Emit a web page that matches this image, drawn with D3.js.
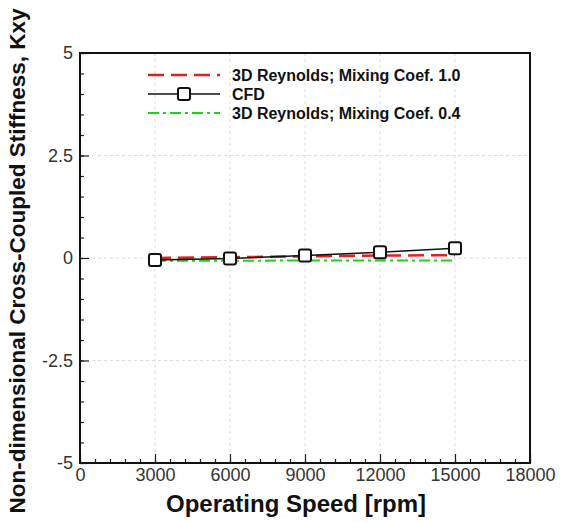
<!DOCTYPE html>
<html>
<head>
<meta charset="utf-8">
<script src="https://cdn.jsdelivr.net/npm/d3@7.9.0/dist/d3.min.js"></script>
<style>
  body { margin: 0; background: #fff; }
  svg { font-family: "Liberation Sans", Arial, sans-serif; }
</style>
</head>
<body>
<div id="plot-container"></div>
<script>
// data
const speeds = [3000, 6000, 9000, 12000, 15000];
const reynolds10 = [0.0, 0.02, 0.04, 0.06, 0.07];
const cfd = [-0.05, -0.01, 0.06, 0.14, 0.24];
const reynolds04 = [-0.07, -0.07, -0.06, -0.06, -0.06];
const xTicks = [0, 3000, 6000, 9000, 12000, 15000, 18000];
const yTicks = [-5, -2.5, 0, 2.5, 5];
const legendNames = ["3D Reynolds; Mixing Coef. 1.0", "CFD", "3D Reynolds; Mixing Coef. 0.4"];

const width = 573, height = 523;
const usable = { left: 80, right: 530, top: 53, bottom: 463 };

const svg = d3.select('#plot-container').append('svg')
    .attr('width', width).attr('height', height);

const xScale = d3.scaleLinear().domain([0, 18000]).range([usable.left, usable.right]);
const yScale = d3.scaleLinear().domain([-5, 5]).range([usable.bottom, usable.top]);

// gridlines
const grid = svg.append('g').attr('stroke', '#dcdcdc').attr('stroke-dasharray', '3,3').attr('stroke-width', 1);
grid.selectAll('.gx').data(xTicks.slice(1, -1)).enter().append('line')
    .attr('x1', d => xScale(d)).attr('x2', d => xScale(d))
    .attr('y1', usable.top).attr('y2', usable.bottom);
grid.selectAll('.gy').data(yTicks.slice(1, -1)).enter().append('line')
    .attr('y1', d => yScale(d)).attr('y2', d => yScale(d))
    .attr('x1', usable.left).attr('x2', usable.right);

// axes with inward ticks
const xAxis = svg.append('g').attr('transform', `translate(0,${usable.bottom})`)
    .call(d3.axisBottom(xScale).tickValues(d3.range(0, 18001, 600)).tickFormat('').tickSize(-4).tickSizeOuter(0));
xAxis.append('g').call(d3.axisBottom(xScale).tickValues(xTicks).tickSize(-9).tickSizeOuter(0).tickPadding(5)
    .tickFormat(d3.format('d')));
const yAxis = svg.append('g').attr('transform', `translate(${usable.left},0)`)
    .call(d3.axisLeft(yScale).tickValues(d3.range(-5, 5.01, 0.5)).tickFormat('').tickSize(-4).tickSizeOuter(0));
yAxis.append('g').call(d3.axisLeft(yScale).tickValues(yTicks).tickSize(-9).tickSizeOuter(0).tickPadding(7)
    .tickFormat(d => String(d)));
svg.selectAll('.tick line').attr('stroke', '#222').attr('stroke-width', 1.2);
svg.selectAll('.domain').remove();
svg.selectAll('.tick text').attr('font-size', 18).attr('fill', '#333')
    .attr('font-family', '"Liberation Sans", Arial, sans-serif');

// frame
svg.append('rect').attr('x', usable.left).attr('y', usable.top)
    .attr('width', usable.right - usable.left).attr('height', usable.bottom - usable.top)
    .attr('fill', 'none').attr('stroke', '#111').attr('stroke-width', 2);

// axis titles
svg.append('text').attr('x', 296).attr('y', 512)
    .attr('text-anchor', 'middle').attr('font-size', 24).attr('font-weight', 'bold').attr('fill', '#111')
    .text('Operating Speed [rpm]');
svg.append('text').attr('transform', `translate(25,261) rotate(-90)`)
    .attr('text-anchor', 'middle').attr('font-size', 22.5).attr('font-weight', 'bold').attr('fill', '#111')
    .text('Non-dimensional Cross-Coupled Stiffness, Kxy');

// lines
const line = d3.line().x((d, i) => xScale(speeds[i])).y(d => yScale(d));
const series = [
    { name: legendNames[0], values: reynolds10, color: '#dd2222', dash: '16,7', width: 2.5 },
    { name: legendNames[2], values: reynolds04, color: '#22cc22', dash: '11,4,3,4', width: 2 },
    { name: legendNames[1], values: cfd, color: '#111', dash: null, width: 1.5 }
];
svg.append('g').selectAll('path').data(series).enter().append('path')
    .attr('fill', 'none').attr('stroke', d => d.color).attr('stroke-width', d => d.width)
    .attr('stroke-dasharray', d => d.dash).attr('d', d => line(d.values));

svg.append('g').selectAll('rect').data(cfd).enter().append('rect')
    .attr('x', (d, i) => xScale(speeds[i]) - 6).attr('y', d => yScale(d) - 6)
    .attr('width', 12).attr('height', 12).attr('rx', 2)
    .attr('fill', '#fff').attr('stroke', '#111').attr('stroke-width', 2);

// legend
const legend = svg.append('g').attr('transform', 'translate(148,75)');
const legendItems = [series[0], series[2], series[1]];
legendItems.forEach((s, i) => {
    const y = i * 19;
    legend.append('line').attr('x1', 0).attr('x2', 72).attr('y1', y).attr('y2', y)
        .attr('stroke', s.color).attr('stroke-width', s.width).attr('stroke-dasharray', s.dash);
    if (s.name === 'CFD') {
        legend.append('rect').attr('x', 30).attr('y', y - 6).attr('width', 12).attr('height', 12).attr('rx', 2)
            .attr('fill', '#fff').attr('stroke', '#111').attr('stroke-width', 2);
    }
    legend.append('text').attr('x', 84).attr('y', y + 6).attr('font-size', 16).attr('font-weight', 'bold')
        .attr('fill', '#111').text(s.name);
});
</script>
</body>
</html>
